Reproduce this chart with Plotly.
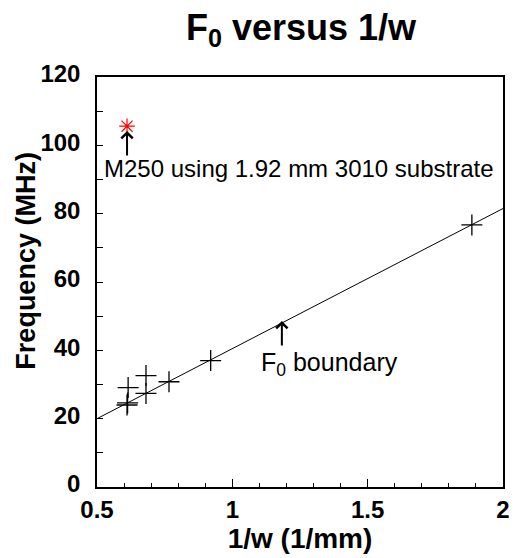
import plotly.graph_objects as go

# Data
inv_w = [0.611, 0.613, 0.615, 0.681, 0.681, 0.766, 0.920, 1.885]
freq = [24.0, 24.6, 29.1, 27.4, 32.6, 30.8, 37.0, 76.7]
m250_x = [0.611]
m250_y = [105.6]
boundary_x = [0.5, 2.0]
boundary_y = [20.0, 81.5]
x_ticks = [0.5, 1, 1.5, 2]
x_tick_labels = ["0.5", "1", "1.5", "2"]
y_ticks = [0, 20, 40, 60, 80, 100, 120]
y_tick_labels = ["0", "20", "40", "60", "80", "100", "120"]

FONT = "Arial, Liberation Sans, sans-serif"

fig = go.Figure()
fig.add_trace(go.Scatter(x=boundary_x, y=boundary_y, mode="lines",
                         line=dict(color="black", width=1), showlegend=False))
fig.add_trace(go.Scatter(x=inv_w, y=freq, mode="markers",
                         marker=dict(symbol="cross-thin-open", size=15, color="black",
                                     line=dict(color="black", width=1.3)),
                         showlegend=False))
fig.add_trace(go.Scatter(x=m250_x, y=m250_y, mode="markers",
                         marker=dict(symbol="asterisk-open", size=13, color="red",
                                     line=dict(color="red", width=1.2)),
                         showlegend=False))

# arrows
fig.add_annotation(x=m250_x[0], y=104.2, ax=0, ay=26, text="", showarrow=True,
                   arrowhead=4, arrowsize=1.1, arrowwidth=2, arrowcolor="black")
fig.add_annotation(x=1.183, y=48.6, ax=0, ay=26, text="", showarrow=True,
                   arrowhead=4, arrowsize=1.1, arrowwidth=2, arrowcolor="black")
# labels
fig.add_annotation(x=0.52, y=93.3, text="M250 using 1.92 mm 3010 substrate",
                   showarrow=False, font=dict(family=FONT, size=24, color="black"),
                   xanchor="left", yanchor="middle")
fig.add_annotation(x=1.10, y=36.0, text="F<sub>0</sub> boundary",
                   showarrow=False, font=dict(family=FONT, size=25, color="black"),
                   xanchor="left", yanchor="middle")
# y axis title
fig.add_annotation(xref="paper", yref="paper", x=-0.175, y=0.552,
                   text="<b>Frequency (MHz)</b>", textangle=-90, showarrow=False,
                   font=dict(family=FONT, size=27, color="black"),
                   xanchor="center", yanchor="middle")

fig.update_layout(
    width=522, height=558,
    margin=dict(l=97, r=12, t=77, b=68),
    paper_bgcolor="white", plot_bgcolor="white",
    font=dict(family=FONT, color="black"),
    title=dict(text="<b>F<sub>0</sub> versus 1/w</b>", x=301/522, xanchor="center",
               y=1 - 27/558, yanchor="middle",
               font=dict(family=FONT, size=36, color="black")),
    showlegend=False,
)
fig.update_xaxes(
    range=[0.5, 2.0], tickvals=x_ticks, ticktext=x_tick_labels,
    ticks="inside", ticklen=8, tickwidth=1, tickcolor="black",
    minor=dict(dtick=0.1, ticks="inside", ticklen=4, tickcolor="black", tickwidth=1),
    showgrid=False, zeroline=False,
    showline=True, linecolor="black", linewidth=1.5, mirror=True,
    tickfont=dict(family=FONT, size=24, color="black", weight="bold"),
    title=dict(text="<b>1/w (1/mm)</b>", font=dict(family=FONT, size=28, color="black"),
               standoff=4),
)
fig.update_yaxes(
    range=[0, 120], tickvals=y_ticks, ticktext=y_tick_labels,
    ticks="inside", ticklen=6, tickwidth=1, tickcolor="black",
    minor=dict(dtick=10, ticks="inside", ticklen=6, tickcolor="black", tickwidth=1),
    showgrid=False, zeroline=False,
    showline=True, linecolor="black", linewidth=1.5, mirror=True,
    tickfont=dict(family=FONT, size=24, color="black", weight="bold"),
    ticklabelstandoff=10, ticklabelshift=-3,
)

fig.write_html("out.html")
